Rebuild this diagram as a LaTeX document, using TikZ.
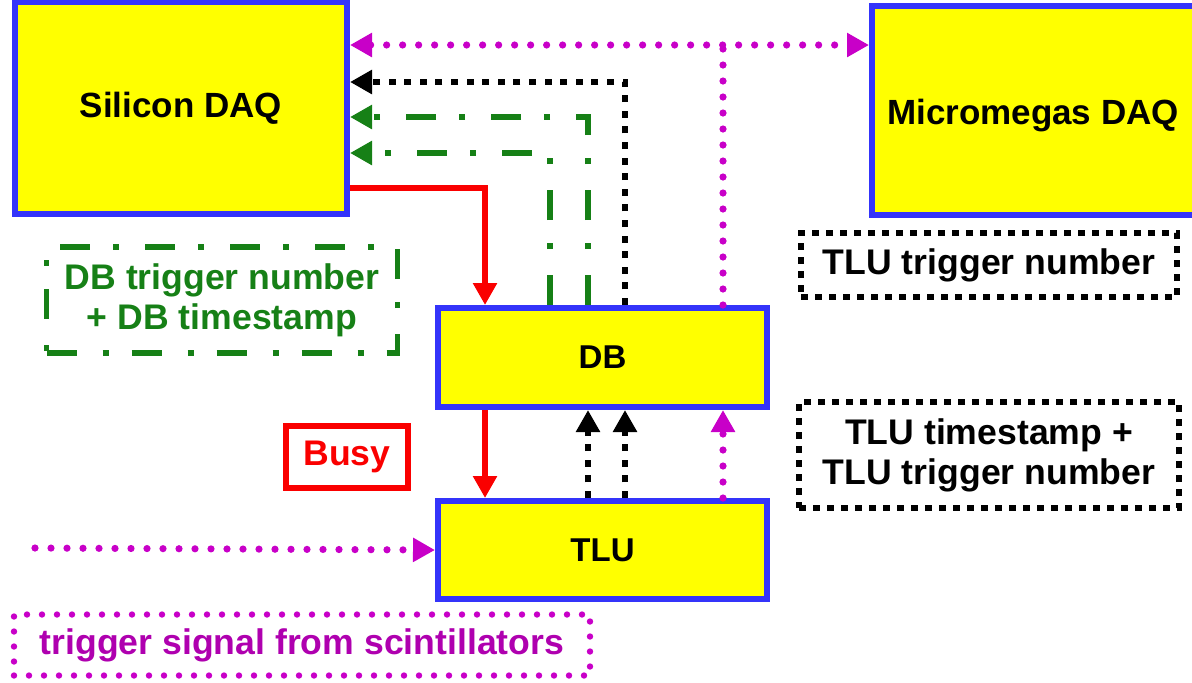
\documentclass[tikz,border=0pt]{standalone}
\usepackage{fontspec}
\setmainfont{Liberation Sans}
\usetikzlibrary{arrows.meta}
\definecolor{boxblue}{RGB}{52,52,250}
\definecolor{myyellow}{RGB}{255,255,0}
\definecolor{mygreen}{RGB}{22,128,22}
\definecolor{mymag}{RGB}{200,0,200}
\definecolor{mymagtext}{RGB}{175,0,175}
\definecolor{myred}{RGB}{250,0,0}
\tikzset{
  daqbox/.style={draw=boxblue, fill=myyellow, line width=3pt, inner sep=0pt,
    font=\bfseries\fontsize{17.5}{21}\selectfont},
  unitbox/.style={draw=boxblue, fill=myyellow, line width=3pt, inner sep=0pt,
    font=\bfseries\fontsize{16.5}{20}\selectfont},
  lbl/.style={line width=2.75pt, inner sep=0pt, align=center,
    font=\bfseries\fontsize{17.8}{20}\selectfont},
  tip/.style={-{Triangle[length=11pt,width=11.5pt]}},
  tips/.style={{Triangle[length=11pt,width=11.5pt]}-{Triangle[length=11pt,width=11.5pt]}},
  redline/.style={draw=myred, line width=3pt},
  blkdots/.style={draw=black, line width=3.25pt, dash pattern=on 3.5pt off 4.3pt},
  magdots/.style={draw=mymag, line width=3.6pt, line cap=round, dash pattern=on 0pt off 8pt},
  greendd/.style={draw=mygreen, line width=3pt, dash pattern=on 15pt off 13pt on 3pt off 11.5pt},
}
\begin{document}
\begin{tikzpicture}[x=0.5pt,y=-0.5pt]
\useasboundingbox (0,0) rectangle (1192,682);
\clip (0,0) rectangle (1192,682);

% main boxes
\node[daqbox, minimum width=166pt, minimum height=106pt] (si) at (181,108) {Silicon DAQ};
\node[daqbox, minimum width=168pt, minimum height=104.5pt, anchor=north west] (mm) at (869,3) {};
\node[font=\bfseries\fontsize{17.5}{21}\selectfont] (mmt) at (1033,116) {Micromegas DAQ};
\node[unitbox, minimum width=164.5pt, minimum height=49.5pt] (db) at (602.5,357.5) {DB};
\node[unitbox, minimum width=164.5pt, minimum height=49pt] (tlu) at (602.5,550) {TLU};

% label boxes
\node[lbl, draw=myred, text=myred, minimum width=61pt, minimum height=31pt] (busy) at (347,457) {Busy};
\node[lbl, draw=mygreen, text=mygreen, dash pattern=on 15pt off 13pt on 3pt off 11.5pt,
      minimum width=175.5pt, minimum height=53pt] (dbl) at (222,300) {DB trigger number\\+ DB timestamp};
\node[lbl, draw=black, line width=3pt, dash pattern=on 3.5pt off 3.5pt,
      minimum width=188pt, minimum height=32pt] (tlun) at (989,265) {TLU trigger number};
\node[lbl, draw=black, line width=3pt, dash pattern=on 3.5pt off 3.5pt,
      minimum width=190pt, minimum height=53pt] (tlut) at (989,455) {TLU timestamp +\\TLU trigger number};
\node[lbl, draw=mymag, text=mymagtext, line width=3.2pt, line cap=round, dash pattern=on 0pt off 7.5pt,
      minimum width=288pt, minimum height=30.5pt] (trg) at (302,645) {trigger signal from scintillators};

% helper coordinates
\coordinate (yM) at (0,45);
\coordinate (yB) at (0,82);
\coordinate (yG1) at (0,117);
\coordinate (yG2) at (0,153);
\coordinate (yR) at (0,188);
\coordinate (xR) at (485,0);
\coordinate (xG2) at (550,0);
\coordinate (xG1) at (588,0);
\coordinate (xB) at (625,0);
\coordinate (xM) at (723,0);
\coordinate (src) at (35,548);

% connectors top
\draw[magdots, tips] (yM -| si.east) -- (yM -| mm.west);
\draw[magdots] (xM |- db.north) -- (xM |- yM);
\draw[blkdots, tip] (xB |- db.north) |- (yB -| si.east);
\draw[greendd, tip] (xG1 |- db.north) |- (yG1 -| si.east);
\draw[greendd, tip] (xG2 |- db.north) |- (yG2 -| si.east);
\draw[redline, tip] (yR -| si.east) -| (xR |- db.north);

% connectors between DB and TLU
\draw[redline, tip] (xR |- db.south) -- (xR |- tlu.north);
\draw[blkdots, tip] (xG1 |- tlu.north) -- (xG1 |- db.south);
\draw[blkdots, tip] (xB |- tlu.north) -- (xB |- db.south);
\draw[magdots, tip] (xM |- tlu.north) -- (xM |- db.south);

% trigger input
\draw[magdots, tip] (src) -- (tlu.west);
\end{tikzpicture}
\end{document}
